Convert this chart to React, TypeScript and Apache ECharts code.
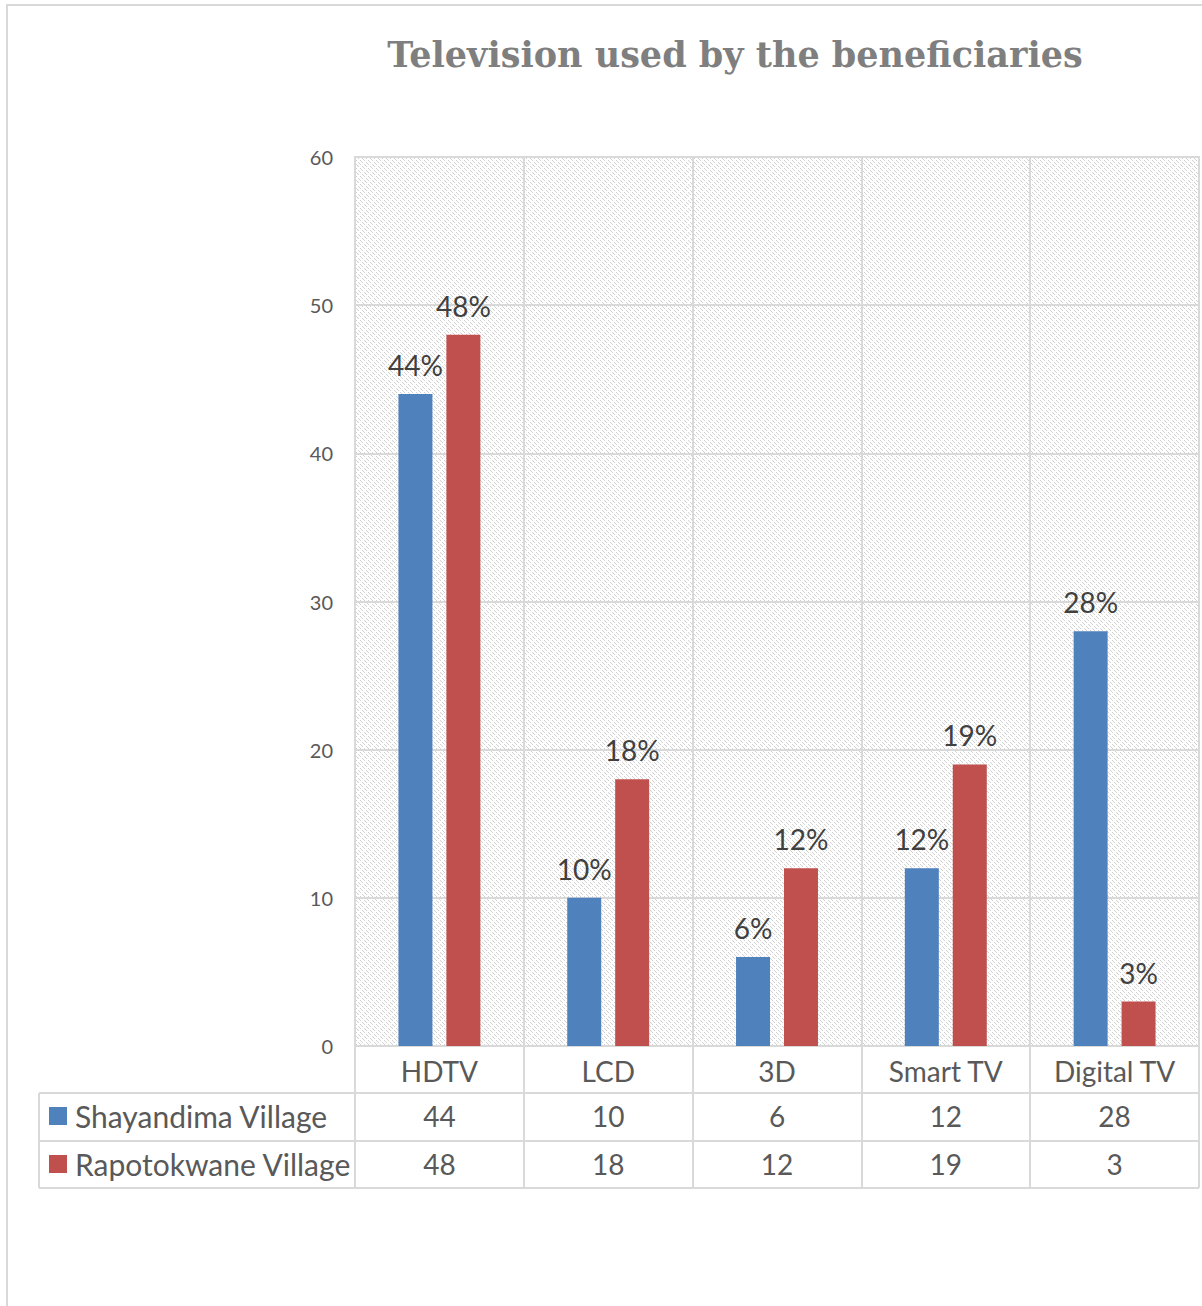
import React, { useEffect, useRef } from 'react';
import * as echarts from 'echarts';

const categories = ['HDTV', 'LCD', '3D', 'Smart TV', 'Digital TV'];
const shayandima = [44, 10, 6, 12, 28];
const rapotokwane = [48, 18, 12, 19, 3];
const seriesNames = ['Shayandima Village', 'Rapotokwane Village'];
const titleText = 'Television used by the beneficiaries';
const yMin = 0;
const yMax = 60;
const yInterval = 10;

function makePattern(): string {
  const n = 8;
  const c = document.createElement('canvas');
  c.width = n;
  c.height = n;
  const ctx = c.getContext('2d')!;
  ctx.fillStyle = '#ffffff';
  ctx.fillRect(0, 0, n, n);
  ctx.fillStyle = '#d2d2d2';
  for (let y = 0; y < n; y++) {
    for (let x = 0; x < n; x++) {
      const d = (((x - y) % 4) + 4) % 4;
      if (d === 0 && (x + y) % 8 !== 6) ctx.fillRect(x, y, 1, 1);
    }
  }
  return c.toDataURL();
}

const GRID_L = 355;
const GRID_T = 157;
const GRID_W = 844;
const GRID_H = 889;
const LINE = '#d9d9d9';
const TXT = '#595959';
const FONT = 'Lato';

export default function App() {
  const ref = useRef<HTMLDivElement>(null);
  useEffect(() => {
    if (!ref.current) return;
    const chart = echarts.init(ref.current, null, { renderer: 'svg' });
    const pattern = { image: makePattern(), repeat: 'repeat', imageWidth: 8, imageHeight: 8 };
    const bottom = GRID_T + GRID_H;
    const right = GRID_L + GRID_W;
    const rowYs = [bottom + 47, bottom + 95, bottom + 142];
    const hLines = rowYs.map((y) => ({
      type: 'line',
      shape: { x1: 39, y1: y, x2: right, y2: y },
      style: { stroke: LINE, lineWidth: 2 },
      silent: true,
    }));
    const labelAxis = (offset: number, values: number[] | null) => ({
      type: 'category',
      data: categories,
      gridIndex: 0,
      position: 'bottom',
      offset,
      axisLine: { show: offset === 0, lineStyle: { color: LINE, width: 2 } },
      axisTick: { show: offset === 0, length: 142, lineStyle: { color: LINE, width: 2 } },
      splitLine: { show: offset === 0, lineStyle: { color: LINE, width: 2 } },
      axisLabel: {
        interval: 0,
        margin: 11,
        fontSize: 28,
        fontFamily: FONT,
        color: TXT,
        formatter: values ? (_v: string, i: number) => String(values[i]) : undefined,
      },
    });
    const barLabel = {
      show: true,
      position: 'top',
      distance: 15,
      fontSize: 28,
      color: '#404040',
      fontFamily: FONT,
      formatter: '{c}%',
    };
    const option: any = {
      animation: false,
      backgroundColor: '#ffffff',
      textStyle: { fontFamily: FONT },
      grid: {
        left: GRID_L,
        top: GRID_T,
        width: GRID_W,
        height: GRID_H,
        show: true,
        backgroundColor: pattern,
        borderColor: LINE,
        borderWidth: 2,
      },
      legend: {
        orient: 'vertical',
        left: 49,
        top: bottom + 55,
        padding: 0,
        itemWidth: 18,
        itemHeight: 18,
        itemGap: 18,
        icon: 'rect',
        data: seriesNames,
        textStyle: { fontSize: 30, lineHeight: 30, color: TXT, fontFamily: FONT, padding: [0, 0, 0, 3] },
      },
      xAxis: [labelAxis(0, null), labelAxis(45, shayandima), labelAxis(93, rapotokwane)],
      yAxis: {
        type: 'value',
        min: yMin,
        max: yMax,
        interval: yInterval,
        axisLine: { show: false },
        axisTick: { show: false },
        axisLabel: { margin: 22, fontSize: 20, color: TXT, fontFamily: FONT },
        splitLine: { lineStyle: { color: LINE, width: 2 } },
      },
      series: [
        {
          name: seriesNames[0],
          type: 'bar',
          data: shayandima,
          barWidth: 34,
          barGap: '41%',
          itemStyle: { color: '#4f81bd' },
          label: barLabel,
        },
        {
          name: seriesNames[1],
          type: 'bar',
          data: rapotokwane,
          barWidth: 34,
          barGap: '41%',
          itemStyle: { color: '#c0504d' },
          label: barLabel,
        },
      ],
      graphic: [
        {
          type: 'rect',
          shape: { x: 7, y: 5, width: 1230, height: 1340 },
          style: { fill: 'none', stroke: LINE, lineWidth: 2 },
          silent: true,
        },
        {
          type: 'text',
          x: 735,
          y: 54,
          style: {
            text: titleText,
            fontSize: 35,
            fontWeight: 'bold',
            fontFamily: '"DejaVu Serif"',
            fill: '#7f7f7f',
            align: 'center',
            verticalAlign: 'middle',
          },
        },
        ...hLines,
        {
          type: 'line',
          shape: { x1: 39, y1: rowYs[0], x2: 39, y2: rowYs[2] },
          style: { stroke: LINE, lineWidth: 2 },
          silent: true,
        },
      ],
    };
    chart.setOption(option);
    return () => chart.dispose();
  }, []);
  return <div ref={ref} style={{ position: 'absolute', left: 0, top: 0, width: 1202, height: 1306 }} />;
}
